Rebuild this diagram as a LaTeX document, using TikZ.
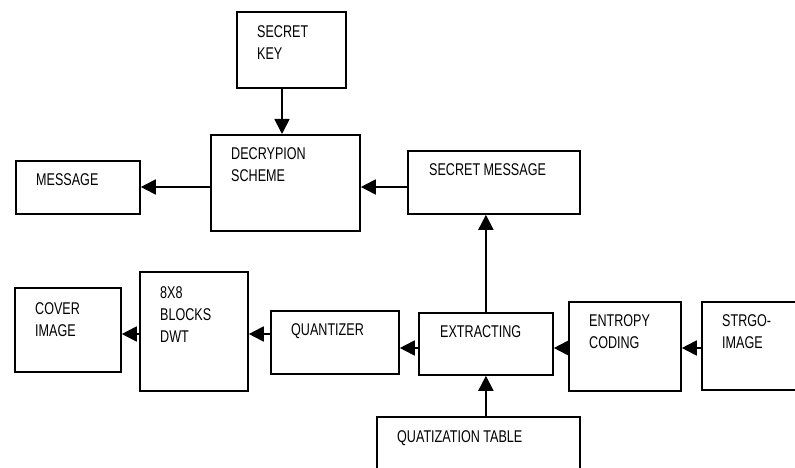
\documentclass[tikz,border=0pt]{standalone}
\usepackage{fontspec}
\setmainfont{Liberation Sans}[FakeStretch=0.74]
\usetikzlibrary{arrows.meta,calc}
\begin{document}
\begin{tikzpicture}[x=1pt,y=-1pt,
  box/.style={draw=black,line width=1.8pt,rectangle,inner sep=0pt,anchor=north west},
  lbl/.style={inner sep=0pt,anchor=north west,align=left,font=\fontsize{17}{22}\selectfont},
  arr/.style={line width=1.8pt,-{Triangle[length=15pt,width=15pt]}}]
\clip (0,0) rectangle (795,468);
\fill[white] (0,0) rectangle (795,468);
% boxes
\node[box,minimum width=109pt,minimum height=76pt] (key) at (236,11) {};
\node[box,minimum width=149pt,minimum height=96pt] (dec) at (210,134) {};
\node[box,minimum width=124pt,minimum height=53pt] (msg) at (15,160) {};
\node[box,minimum width=172pt,minimum height=63pt] (smsg) at (407,150) {};
\node[box,minimum width=106pt,minimum height=84pt] (cover) at (14,287) {};
\node[box,minimum width=108pt,minimum height=119pt] (blocks) at (139,271) {};
\node[box,minimum width=128pt,minimum height=63pt] (quant) at (270,310) {};
\node[box,minimum width=134pt,minimum height=62pt] (extr) at (418,312) {};
\node[box,minimum width=112pt,minimum height=89pt] (entropy) at (568,301) {};
\node[box,minimum width=120pt,minimum height=88pt] (strgo) at (701,301) {};
\node[box,minimum width=203pt,minimum height=70pt] (qtable) at (376,416) {};
% labels
\node[lbl] (tkey) at (257,25) {SECRET\\KEY};
\node[lbl] (tdec) at (231,147) {DECRYPION\\SCHEME};
\node[lbl] (tmsg) at (36,173) {MESSAGE};
\node[lbl] (tsmsg) at (429,163) {SECRET MESSAGE};
\node[lbl] (tcover) at (35,302) {COVER\\IMAGE};
\node[lbl] (tblocks) at (160,286) {8X8\\BLOCKS\\DWT};
\node[lbl] (tquant) at (291,323) {QUANTIZER};
\node[lbl] (textr) at (440,325) {EXTRACTING};
\node[lbl] (tentropy) at (589,314) {ENTROPY\\CODING};
\node[lbl] (tstrgo) at (722,314) {STRGO-\\IMAGE};
\node[lbl] (tqtable) at (397,430) {QUATIZATION TABLE};
% connector rows
\coordinate (kx) at (282,0);
\coordinate (r0) at (0,187);
\coordinate (r1) at (0,334);
\coordinate (r2) at (0,348);
% connectors
\draw[arr] (kx |- key.south) -- (kx |- dec.north);
\draw[arr] (r0 -| dec.west) -- (r0 -| msg.east);
\draw[arr] (r0 -| smsg.west) -- (r0 -| dec.east);
\draw[arr] (extr.north) -- (extr.north |- smsg.south);
\draw[arr] (r1 -| blocks.west) -- (r1 -| cover.east);
\draw[arr] (r1 -| quant.west) -- (r1 -| blocks.east);
\draw[arr] (r2 -| extr.west) -- (r2 -| quant.east);
\draw[arr] (r2 -| entropy.west) -- (r2 -| extr.east);
\draw[arr] (r2 -| strgo.west) -- (r2 -| entropy.east);
\draw[arr] (qtable.north -| extr.south) -- (extr.south);
\end{tikzpicture}
\end{document}
